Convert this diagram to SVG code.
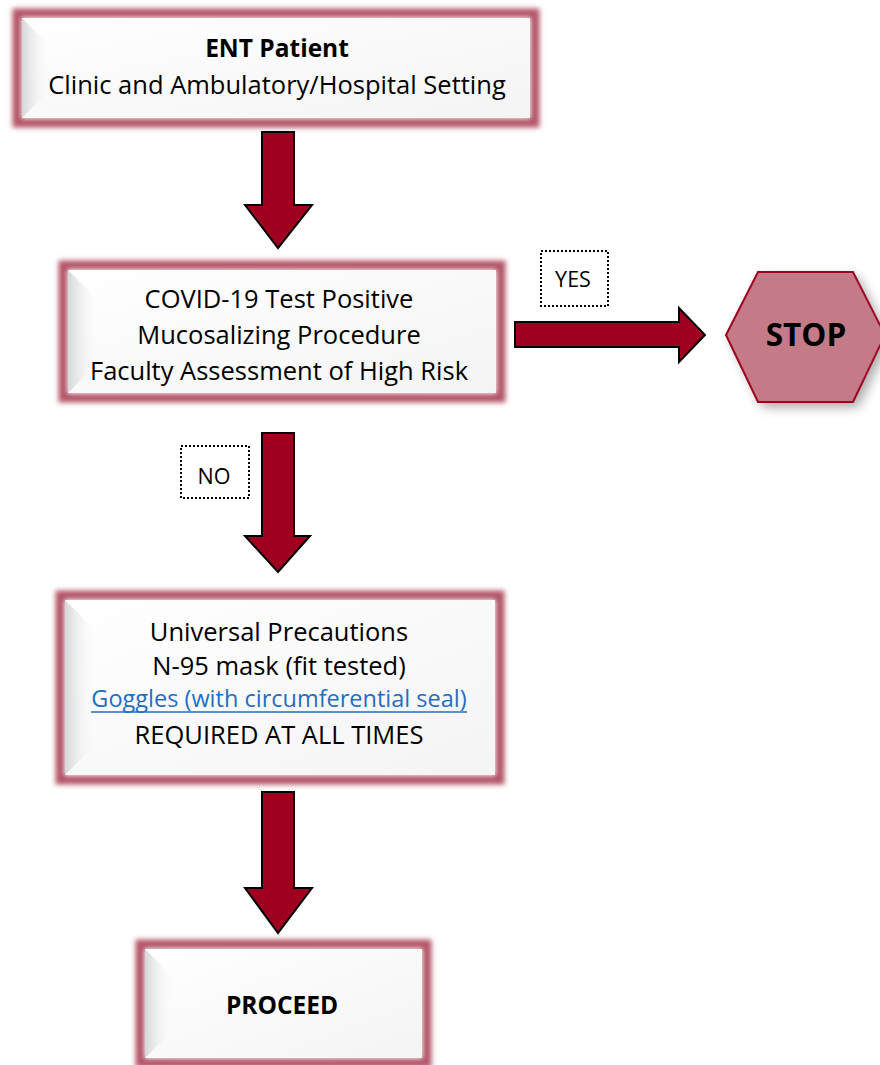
<svg xmlns="http://www.w3.org/2000/svg" width="880" height="1065" viewBox="0 0 880 1065">
<defs>
<filter id="glow" x="-10%" y="-20%" width="120%" height="140%">
<feGaussianBlur stdDeviation="2.4"/>
</filter>
<filter id="shadow" x="-20%" y="-20%" width="140%" height="140%">
<feGaussianBlur stdDeviation="6"/>
</filter>
<linearGradient id="bevel" x1="0" y1="0" x2="1" y2="0">
<stop offset="0" stop-color="#d4d6d8"/>
<stop offset="1" stop-color="#ffffff" stop-opacity="0"/>
</linearGradient>
<linearGradient id="face" x1="0" y1="0" x2="1" y2="1">
<stop offset="0" stop-color="#ffffff"/>
<stop offset="1" stop-color="#f4f4f4"/>
</linearGradient>
</defs>
<style>
.frame{fill:none;stroke:#b35568;stroke-width:9;filter:url(#glow)}
.face{fill:url(#face)}
.bev{fill:url(#bevel)}
.t{font-family:"Open Sans","Liberation Sans",sans-serif;font-size:25.5px;fill:#000;text-anchor:middle}
.b{font-weight:bold;font-size:24.5px}
.arrow{fill:#a00020;stroke:#000;stroke-width:2;stroke-linejoin:miter}
.lbl{fill:#fff;stroke:#000;stroke-width:2;stroke-dasharray:2 2}
.lt{font-family:"Open Sans","Liberation Sans",sans-serif;font-size:21.5px;fill:#000;text-anchor:middle}
.link{font-size:23.5px;fill:#1f6fc5}
</style>

<g id="connectors">
<polygon class="arrow" points="262,132 294,132 294,205 312,205 278,248 245,205 262,205"/>
<polygon class="arrow" points="515,322 679,322 679,308 705,335 679,362 679,347 515,347"/>
<polygon class="arrow" points="262,433 294,433 294,536 310,536 278,572 245,536 262,536"/>
<polygon class="arrow" points="262,792 294,792 294,888 312,888 278,933 245,888 262,888"/>
</g>

<g id="node-ent">
<rect x="17" y="13" width="518" height="110" class="frame"/>
<rect x="22" y="18" width="508" height="100" class="face"/>
<polygon class="bev" points="22,18 52,48 52,88 22,118"/>
<text x="277" y="57" class="t b">ENT Patient</text>
<text x="277" y="94" class="t">Clinic and Ambulatory/Hospital Setting</text>
</g>

<g id="node-covid">
<rect x="63" y="265" width="438" height="133" class="frame"/>
<rect x="68" y="270" width="428" height="123" class="face"/>
<polygon class="bev" points="68,270 100,302 100,361 68,393"/>
<text x="279" y="308" class="t">COVID-19 Test Positive</text>
<text x="279" y="344" class="t">Mucosalizing Procedure</text>
<text x="279" y="380" class="t">Faculty Assessment of High Risk</text>
</g>

<g id="label-yes">
<rect x="541" y="251" width="67" height="55" class="lbl"/>
<text x="573" y="287" class="lt">YES</text>
</g>

<g id="node-stop">
<polygon points="731,340 763,277 858,277 890,340 858,407 763,407" fill="#000" opacity="0.35" filter="url(#shadow)"/>
<polygon points="726,335 758,272 853,272 885,335 853,402 758,402" fill="#c47b87" stroke="#a00020" stroke-width="2"/>
<text x="806" y="346" font-family="'Open Sans','Liberation Sans',sans-serif" font-size="31.5" font-weight="bold" text-anchor="middle" fill="#000">STOP</text>
</g>

<g id="label-no">
<rect x="181" y="446" width="68" height="52" class="lbl"/>
<text x="214" y="484" class="lt">NO</text>
</g>

<g id="node-universal">
<rect x="60" y="595" width="440" height="185" class="frame"/>
<rect x="65" y="600" width="430" height="175" class="face"/>
<polygon class="bev" points="65,600 97,632 97,743 65,775"/>
<text x="279" y="641" class="t">Universal Precautions</text>
<text x="279" y="675" class="t">N-95 mask (fit tested)</text>
<text x="279" y="707" class="t link">Goggles (with circumferential seal)</text>
<line x1="91" y1="712" x2="467" y2="712" stroke="#1f6fc5" stroke-width="1.5"/>
<text x="279" y="744" class="t">REQUIRED AT ALL TIMES</text>
</g>

<g id="node-proceed">
<rect x="140" y="944" width="287" height="119" class="frame"/>
<rect x="145" y="949" width="277" height="109" class="face"/>
<polygon class="bev" points="145,949 175,979 175,1028 145,1058"/>
<text x="282" y="1014" class="t b">PROCEED</text>
</g>
</svg>
